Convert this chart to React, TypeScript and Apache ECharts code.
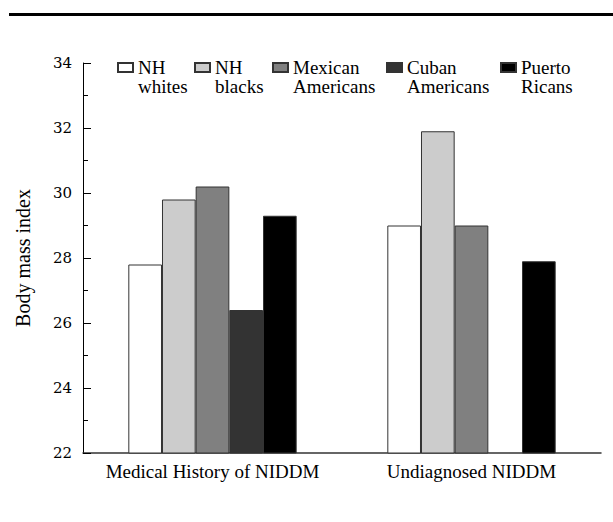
import React, { useEffect, useRef } from "react";
import * as echarts from "echarts";

const categories = ["Medical History of NIDDM", "Undiagnosed NIDDM"];
const seriesNames = ["NH\nwhites", "NH\nblacks", "Mexican\nAmericans", "Cuban\nAmericans", "Puerto\nRicans"];
const nhWhites = [27.8, 29.0];
const nhBlacks = [29.8, 31.9];
const mexicanAmericans = [30.2, 29.0];
const cubanAmericans = [26.4, null];
const puertoRicans = [29.3, 27.9];
const yTicks = [22, 24, 26, 28, 30, 32, 34];

const seriesValues = [nhWhites, nhBlacks, mexicanAmericans, cubanAmericans, puertoRicans];
const colors = ["#ffffff", "#cccccc", "#808080", "#333333", "#000000"];
const legendLeft = [117, 194, 272, 386, 500];

export default function App() {
  const ref = useRef<HTMLDivElement>(null);
  useEffect(() => {
    document.body.style.margin = "0";
    const chart = echarts.init(ref.current!, undefined, { renderer: "svg" });
    const serif = "Liberation Serif";
    const L = 19;
    chart.setOption({
      animation: false,
      backgroundColor: "#ffffff",
      grid: { left: 83, right: 12, top: 63, bottom: 69, containLabel: false },
      legend: seriesNames.map((n, i) => ({
        data: [n],
        left: legendLeft[i],
        top: 39,
        padding: 0,
        icon: "rect",
        itemWidth: 15,
        itemHeight: 9,
        selectedMode: false,
        formatter: (name: string) => "\n" + name,
        textStyle: {
          fontFamily: serif,
          fontSize: 19,
          color: "#000",
          lineHeight: L,
        },
      })),
      xAxis: {
        type: "category",
        data: categories,
        axisLine: { lineStyle: { color: "#333", width: 1.5 } },
        axisTick: { show: false },
        axisLabel: { interval: 0, fontFamily: serif, fontSize: 19, color: "#000", margin: 9 },
      },
      yAxis: {
        type: "value",
        min: yTicks[0],
        max: yTicks[yTicks.length - 1],
        interval: 2,
        name: "Body mass index",
        nameLocation: "middle",
        nameGap: 50,
        nameTextStyle: { fontFamily: serif, fontSize: 20, color: "#000" },
        axisLine: { show: true, lineStyle: { color: "#000", width: 1 } },
        axisTick: { show: true, inside: true, length: 8, lineStyle: { color: "#000" } },
        minorTick: { show: true, splitNumber: 2, length: 5, lineStyle: { color: "#000" } },
        splitLine: { show: false },
        axisLabel: {
          fontFamily: "DejaVu Serif",
          fontSize: 15,
          color: "#000",
          margin: 11,
        },
      },
      series: seriesNames.map((n, i) => ({
        name: n,
        type: "bar",
        data: seriesValues[i],
        barGap: "0%",
        barCategoryGap: "35%",
        itemStyle: { color: colors[i], borderColor: "#333", borderWidth: 1 },
      })),
      graphic: [
        {
          type: "line",
          shape: { x1: 9, y1: 14.5, x2: 613, y2: 14.5 },
          style: { stroke: "#000", lineWidth: 3 },
        },
      ],
    });
    return () => chart.dispose();
  }, []);
  return <div ref={ref} style={{ width: 613, height: 522 }} />;
}
